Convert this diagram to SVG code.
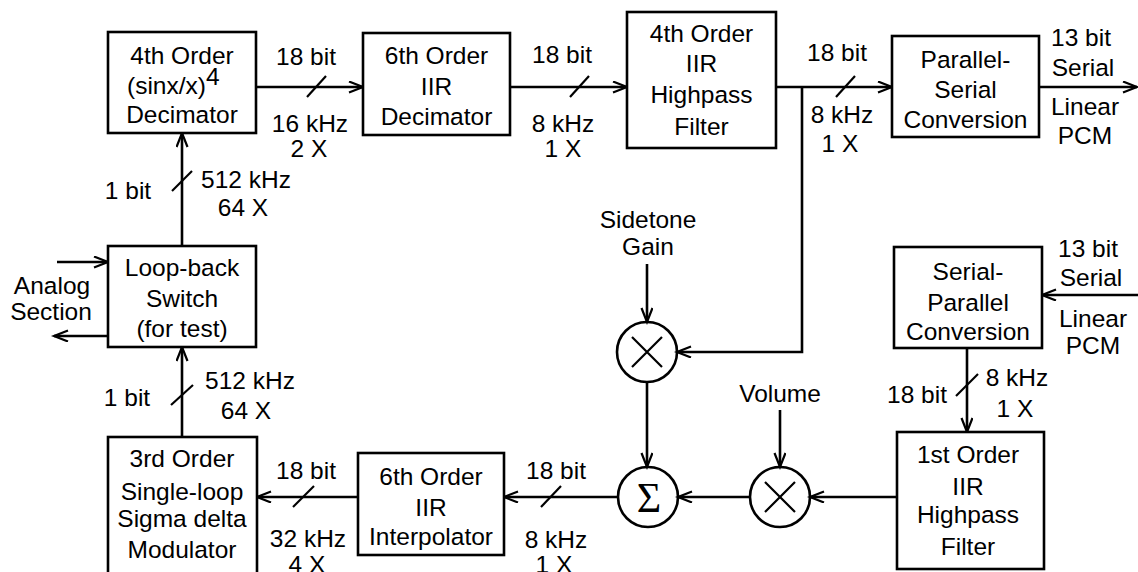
<svg xmlns="http://www.w3.org/2000/svg" width="1138" height="572" viewBox="0 0 1138 572">
<defs>
<marker id="arr" markerUnits="userSpaceOnUse" markerWidth="20" markerHeight="16" refX="15" refY="6" orient="auto">
<path d="M1,0.5 L15,6 L1,11.5" fill="none" stroke="#000" stroke-width="2.2"/>
</marker>
</defs>
<style>
text{font-family:"Liberation Sans",Arial,sans-serif;font-size:24.5px;fill:#000;text-anchor:middle}
.box{fill:#fff;stroke:#000;stroke-width:2.6}
.ln{fill:none;stroke:#000;stroke-width:2.6}
.sl{fill:none;stroke:#000;stroke-width:2.2}
.ar{marker-end:url(#arr)}
.sig{font-family:"Liberation Serif","Times New Roman",serif;font-size:42px}
</style>
<rect width="1138" height="572" fill="#fff"/>
<g id="connectors">
<line class="ln ar" x1="256" y1="87" x2="363" y2="87"/>
<line class="sl" x1="307" y1="97" x2="326" y2="76"/>
<line class="ln ar" x1="510" y1="87" x2="627" y2="87"/>
<line class="sl" x1="570" y1="97" x2="589" y2="76"/>
<line class="ln ar" x1="776" y1="87" x2="892" y2="87"/>
<line class="sl" x1="836" y1="97" x2="855" y2="76"/>
<line class="ln ar" x1="1039" y1="87" x2="1137" y2="87"/>
<polyline class="ln ar" points="802,87 802,352 677,352"/>
<line class="ln ar" x1="182" y1="246" x2="182" y2="133"/>
<line class="sl" x1="172" y1="191" x2="192" y2="171"/>
<line class="ln ar" x1="182" y1="437" x2="182" y2="347"/>
<line class="sl" x1="171" y1="405" x2="193" y2="385"/>
<line class="ln ar" x1="57" y1="262" x2="108" y2="262"/>
<line class="ln ar" x1="108" y1="336" x2="54" y2="336"/>
<line class="ln ar" x1="1138" y1="295" x2="1042" y2="295"/>
<line class="ln ar" x1="967" y1="348" x2="967" y2="432"/>
<line class="sl" x1="956" y1="396" x2="978" y2="374"/>
<line class="ln ar" x1="647" y1="264" x2="647" y2="322"/>
<line class="ln ar" x1="647" y1="382" x2="647" y2="467"/>
<line class="ln ar" x1="780" y1="410" x2="780" y2="467"/>
<line class="ln ar" x1="897" y1="497" x2="810" y2="497"/>
<line class="ln ar" x1="750" y1="497" x2="678" y2="497"/>
<line class="ln ar" x1="618" y1="497" x2="504" y2="497"/>
<line class="sl" x1="541" y1="507" x2="561" y2="486"/>
<line class="ln ar" x1="358" y1="497" x2="257" y2="497"/>
<line class="sl" x1="293" y1="507" x2="314" y2="486"/>
</g>
<g id="labels">
<text x="306" y="65">18 bit</text>
<text x="310" y="132">16 kHz</text>
<text x="309" y="157">2 X</text>
<text x="562" y="63">18 bit</text>
<text x="563" y="132">8 kHz</text>
<text x="563" y="157">1 X</text>
<text x="837" y="61">18 bit</text>
<text x="842" y="123">8 kHz</text>
<text x="840" y="152">1 X</text>
<text x="1081" y="46">13 bit</text>
<text x="1083" y="76">Serial</text>
<text x="1085" y="115">Linear</text>
<text x="1085" y="144">PCM</text>
<text x="128" y="199">1 bit</text>
<text x="246" y="188">512 kHz</text>
<text x="243" y="216">64 X</text>
<text x="52" y="294">Analog</text>
<text x="51" y="320">Section</text>
<text x="127" y="406">1 bit</text>
<text x="250" y="389">512 kHz</text>
<text x="246" y="419">64 X</text>
<text x="1088" y="257">13 bit</text>
<text x="1091" y="286">Serial</text>
<text x="1093" y="327">Linear</text>
<text x="1093" y="354">PCM</text>
<text x="917" y="403">18 bit</text>
<text x="1017" y="386">8 kHz</text>
<text x="1015" y="417">1 X</text>
<text x="648" y="228">Sidetone</text>
<text x="648" y="255">Gain</text>
<text x="780" y="402">Volume</text>
<text x="556" y="479">18 bit</text>
<text x="556" y="548">8 kHz</text>
<text x="554" y="573">1 X</text>
<text x="306" y="479">18 bit</text>
<text x="308" y="547">32 kHz</text>
<text x="307" y="573">4 X</text>
</g>
<g id="n-sinc">
<rect class="box" x="108" y="32" width="148" height="101"/>
<text x="182" y="64">4th Order</text>
<text x="127" y="94" style="text-anchor:start">(sinx/x)<tspan dy="-9">4</tspan></text>
<text x="182" y="123">Decimator</text>
</g>
<g id="n-iirdec">
<rect class="box" x="363" y="33" width="147" height="102"/>
<text x="436.5" y="64">6th Order</text>
<text x="436.5" y="95">IIR</text>
<text x="436.5" y="125">Decimator</text>
</g>
<g id="n-hpf1">
<rect class="box" x="627" y="12" width="149" height="136"/>
<text x="701.5" y="42">4th Order</text>
<text x="701.5" y="72">IIR</text>
<text x="701.5" y="103">Highpass</text>
<text x="701.5" y="135">Filter</text>
</g>
<g id="n-p2s">
<rect class="box" x="892" y="36" width="147" height="101"/>
<text x="965.5" y="68">Parallel-</text>
<text x="965.5" y="98">Serial</text>
<text x="965.5" y="128">Conversion</text>
</g>
<g id="n-loop">
<rect class="box" x="108" y="246" width="148" height="101"/>
<text x="182" y="276">Loop-back</text>
<text x="182" y="307">Switch</text>
<text x="182" y="337">(for test)</text>
</g>
<g id="n-s2p">
<rect class="box" x="894" y="247" width="148" height="101"/>
<text x="968" y="280">Serial-</text>
<text x="968" y="311">Parallel</text>
<text x="968" y="340">Conversion</text>
</g>
<g id="n-hpf2">
<rect class="box" x="897" y="432" width="147" height="137"/>
<text x="968" y="463">1st Order</text>
<text x="968" y="495">IIR</text>
<text x="968" y="523">Highpass</text>
<text x="968" y="555">Filter</text>
</g>
<g id="n-interp">
<rect class="box" x="358" y="453" width="146" height="102"/>
<text x="431" y="485">6th Order</text>
<text x="431" y="516">IIR</text>
<text x="431" y="545">Interpolator</text>
</g>
<g id="n-mod">
<rect class="box" x="108" y="437" width="149" height="150"/>
<text x="182" y="467">3rd Order</text>
<text x="182" y="500">Single-loop</text>
<text x="182" y="527">Sigma delta</text>
<text x="182" y="558">Modulator</text>
</g>
<g id="n-mul-sidetone">
<circle class="ln" cx="647" cy="352" r="30"/>
<path class="sl" d="M632,337 L662,367 M662,337 L632,367"/>
</g>
<g id="n-mul-volume">
<circle class="ln" cx="780" cy="497" r="30"/>
<path class="sl" d="M765,482 L795,512 M795,482 L765,512"/>
</g>
<g id="n-sum">
<circle class="ln" cx="648" cy="497" r="30"/>
<text class="sig" x="649" y="512">Σ</text>
</g>
</svg>
